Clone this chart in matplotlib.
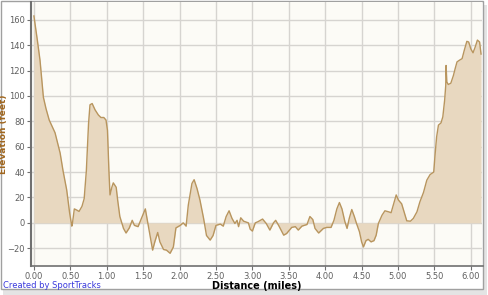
import matplotlib.pyplot as plt
from matplotlib.patches import Rectangle

# distance (miles) and elevation (feet)
distance = [0.00, 0.02, 0.047, 0.084, 0.13, 0.166, 0.21, 0.29, 0.36, 0.40, 0.45, 0.49,
            0.52, 0.53, 0.555, 0.59, 0.62, 0.66, 0.69, 0.72, 0.75, 0.77, 0.80, 0.84,
            0.885, 0.92, 0.96, 0.99, 1.01, 1.03, 1.045, 1.07, 1.09, 1.13, 1.15, 1.18,
            1.23, 1.265, 1.31, 1.35, 1.38, 1.43, 1.48, 1.53, 1.57, 1.63, 1.66, 1.70,
            1.73, 1.78, 1.82, 1.87, 1.915, 1.95, 2.01, 2.05, 2.09, 2.12, 2.17, 2.20,
            2.24, 2.28, 2.33, 2.37, 2.42, 2.46, 2.50, 2.56, 2.60, 2.64, 2.68, 2.72,
            2.76, 2.79, 2.81, 2.84, 2.88, 2.945, 2.97, 3.00, 3.04, 3.08, 3.14, 3.19,
            3.24, 3.29, 3.32, 3.36, 3.43, 3.47, 3.54, 3.59, 3.63, 3.68, 3.75, 3.79,
            3.83, 3.86, 3.91, 3.975, 4.02, 4.08, 4.12, 4.16, 4.195, 4.23, 4.27, 4.30,
            4.33, 4.365, 4.40, 4.43, 4.47, 4.50, 4.525, 4.56, 4.59, 4.63, 4.67, 4.70,
            4.73, 4.78, 4.82, 4.87, 4.905, 4.94, 4.975, 5.005, 5.05, 5.09, 5.12, 5.17,
            5.21, 5.26, 5.30, 5.35, 5.395, 5.44, 5.49, 5.51, 5.53, 5.555, 5.59, 5.615,
            5.64, 5.655, 5.66, 5.67, 5.69, 5.725, 5.76, 5.785, 5.81, 5.84, 5.88, 5.91,
            5.945, 5.97, 6.00, 6.03, 6.06, 6.09, 6.12, 6.14]
elevation = [163, 155, 144, 128, 99, 90, 81, 71, 55, 41, 26, 8,
             -2.6, 0, 11, 10, 9, 13, 19, 41, 78, 93, 94, 89,
             85, 83, 83, 81, 73, 41, 22, 28, 31.5, 28, 18, 5,
             -4.4, -8, -4, 2, -2, -3, 4, 11, -2, -21.5, -15, -7.6,
             -15, -21, -21.5, -24, -19, -4, -2, 0, -2.6, 14, 31, 34,
             27, 18, 3.5, -10, -13.6, -10, -2, -1, -2.6, 5, 9.5, 3.5,
             -0.5, 2, -3, 4, 1.3, 0, -5, -6.5, 0, 1, 3, -0.5,
             -5.7, 0, 2, -2, -9.7, -8.4, -3.6, -3, -5.7, -2.6, -1.3, 5,
             2.6, -4.4, -8, -4.4, -3.6, -3.6, 2, 11, 16, 11, 1, -4.4,
             3.5, 10.5, 5, -0.5, -7, -15, -19, -14, -13, -15, -14, -9.7,
             -0.5, 6, 9.5, 8.7, 8, 15, 22, 18, 15, 7.4, 1.6, 1.3,
             3.5, 8.7, 16.5, 24, 33.6, 38, 40, 54.6, 67.7, 77, 78.7, 83.5,
             96.6, 108, 124, 111, 109, 110, 116, 121.6, 126.8, 128, 129.4, 136,
             143, 142.5, 137, 134, 138.6, 144, 142.5, 133]

x_ticks = [0.0, 0.5, 1.0, 1.5, 2.0, 2.5, 3.0, 3.5, 4.0, 4.5, 5.0, 5.5, 6.0]
y_ticks = [-20, 0, 20, 40, 60, 80, 100, 120, 140, 160]

fig = plt.figure(figsize=(4.89, 2.95), dpi=100)
fig.patch.set_facecolor("white")

# picture frame with a soft shadow
fig.patches.append(Rectangle((3 / 489, 0), 484 / 489, 290 / 295, transform=fig.transFigure,
                             facecolor="#E4E4E4", edgecolor="none", zorder=0))
fig.patches.append(Rectangle((0.5 / 489, 6 / 295), 483 / 489, 288.5 / 295, transform=fig.transFigure,
                             facecolor="white", edgecolor="#A0A0A0", linewidth=1, zorder=0))

ax = fig.add_axes([31 / 489, 29 / 295, 451.5 / 489, 264 / 295])
ax.set_zorder(2)
ax.set_facecolor("#FCFBF6")

ax.fill_between(distance, elevation, 0, color="#E8D8C0", linewidth=0, zorder=2)
ax.plot(distance, elevation, color="#B8955E", linewidth=1.0, zorder=3)

ax.set_xlim(-0.04, 6.16)
ax.set_ylim(-34, 174)
ax.set_xticks(x_ticks)
ax.set_xticklabels([f"{v:.2f}" for v in x_ticks])
ax.set_yticks(y_ticks)
ax.grid(True, color="#D6D4D0", linewidth=1, zorder=1)
ax.set_axisbelow(True)

for side in ["top", "right"]:
    ax.spines[side].set_visible(False)
ax.spines["left"].set_color("#707070")
ax.spines["left"].set_linewidth(1.5)
ax.spines["bottom"].set_color("#707070")
ax.spines["bottom"].set_linewidth(1.2)

ax.tick_params(axis="both", labelsize=6, colors="#707070", labelcolor="#606060",
               length=3, width=0.8, pad=1.5)

ax.set_ylabel("Elevation (feet)", fontsize=6.5, fontweight="bold", color="#A0661E")
ax.yaxis.set_label_coords(-0.052, 0.5)
ax.set_xlabel("Distance (miles)", fontsize=7, fontweight="bold", color="black")
ax.xaxis.set_label_coords(0.5, -0.057)

fig.text(3 / 489, 1 - 286 / 295, "Created by SportTracks", fontsize=6, color="#3A3ADC",
         ha="left", va="center")

fig.savefig("out.png", dpi=100)
